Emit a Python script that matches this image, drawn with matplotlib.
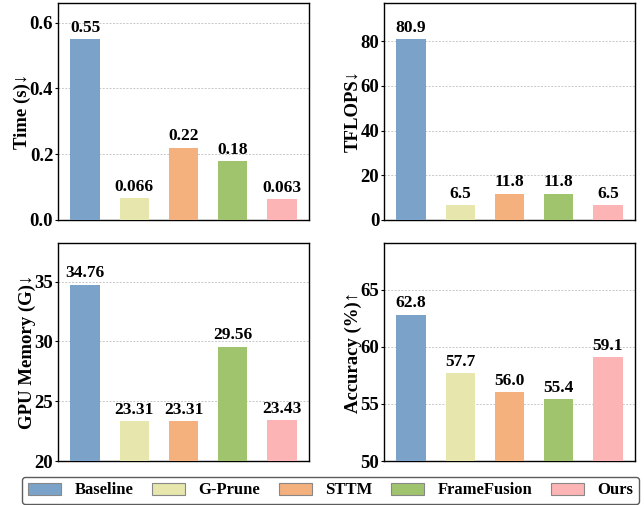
import matplotlib
matplotlib.use("Agg")
import matplotlib.pyplot as plt
from matplotlib.patches import Patch

plt.rcParams["font.family"] = ["Liberation Serif", "DejaVu Serif"]
plt.rcParams["font.weight"] = "bold"

methods = ["Baseline", "G-Prune", "STTM", "FrameFusion", "Ours"]
colors = ["#7BA3C9", "#E6E6AD", "#F4B07D", "#A0C46E", "#FDB4B4"]

time_s = [0.55, 0.066, 0.22, 0.18, 0.063]
time_lbl = ["0.55", "0.066", "0.22", "0.18", "0.063"]
tflops = [80.9, 6.5, 11.8, 11.8, 6.5]
tflops_lbl = ["80.9", "6.5", "11.8", "11.8", "6.5"]
gpu_mem = [34.76, 23.31, 23.31, 29.56, 23.43]
gpu_lbl = ["34.76", "23.31", "23.31", "29.56", "23.43"]
acc = [62.8, 57.7, 56.0, 55.4, 59.1]
acc_lbl = ["62.8", "57.7", "56.0", "55.4", "59.1"]

panels = [
    (time_s, time_lbl, "Time (s)↓", (0, 0.66), [0.0, 0.2, 0.4, 0.6], "{:.1f}"),
    (tflops, tflops_lbl, "TFLOPS↓", (0, 97.1), [0, 20, 40, 60, 80], "{:.0f}"),
    (gpu_mem, gpu_lbl, "GPU Memory (G)↓", (20, 38.24), [20, 25, 30, 35], "{:.0f}"),
    (acc, acc_lbl, "Accuracy (%)↑", (50, 69.08), [50, 55, 60, 65], "{:.0f}"),
]

fig = plt.figure(figsize=(6.44, 5.05), dpi=100)
W, H = 644, 505
rects = [(58, 3, 251, 217), (384, 3, 251, 217),
         (58, 243, 251, 218), (384, 243, 251, 218)]

for (vals, lbls, ylab, ylim, ticks, fmt), (x0, y0, w, h) in zip(panels, rects):
    ax = fig.add_axes([x0 / W, 1 - (y0 + h) / H, w / W, h / H])
    xs = range(len(vals))
    ax.bar(xs, [v - ylim[0] for v in vals], bottom=ylim[0], width=0.6,
           color=colors, zorder=3)
    span = ylim[1] - ylim[0]
    for x, v, t in zip(xs, vals, lbls):
        ax.text(x, v + span * 0.015, t, ha="center", va="bottom",
                fontsize=12.5, weight="bold", zorder=4)
    ax.set_xlim(-0.55, 4.55)
    ax.set_ylim(*ylim)
    ax.set_xticks([])
    ax.set_yticks(ticks)
    ax.set_yticklabels([fmt.format(t) for t in ticks], fontsize=13.5, weight="bold")
    ax.tick_params(axis="y", length=2.5, width=0.8, pad=1)
    ax.set_ylabel(ylab, fontsize=13.5, weight="bold", labelpad=-1)
    ax.grid(axis="y", linestyle=(0, (2, 1.5)), color="#C8C8C8", linewidth=0.7,
            zorder=0)
    for sp in ax.spines.values():
        sp.set_linewidth(1.0)

handles = [Patch(facecolor=c, edgecolor="#888888", linewidth=0.8, label=m)
           for c, m in zip(colors, methods)]
fig.legend(handles=handles, loc="center", ncol=5,
           bbox_to_anchor=(330.5 / W, 1 - 490.5 / H),
           prop={"size": 12, "weight": "bold"}, frameon=True,
           edgecolor="#333333", fancybox=True, handlelength=2.0,
           handleheight=0.75, columnspacing=1.1, borderpad=0.35,
           handletextpad=0.8, borderaxespad=0)

fig.savefig("out.png", dpi=100)
